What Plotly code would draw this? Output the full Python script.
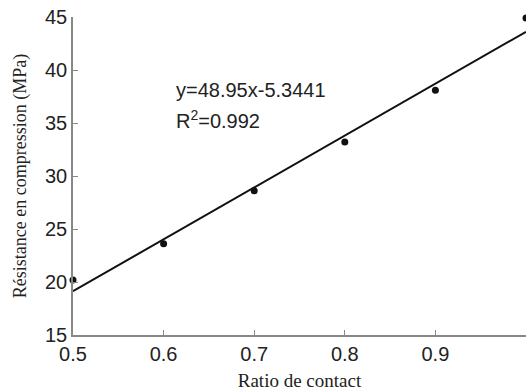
import plotly.graph_objects as go

ratio = [0.5, 0.6, 0.7, 0.8, 0.9, 1.0]
resistance = [20.2, 23.6, 28.6, 33.2, 38.1, 44.9]
slope, intercept = 48.95, -5.3441
x_ticks = [0.5, 0.6, 0.7, 0.8, 0.9, 1.0]
x_labels = ["0.5", "0.6", "0.7", "0.8", "0.9", "1"]
y_ticks = [15, 20, 25, 30, 35, 40, 45]

fit_x = [0.5, 1.0]
fit_y = [slope * v + intercept for v in fit_x]

fig = go.Figure()
fig.add_trace(go.Scatter(x=fit_x, y=fit_y, mode="lines",
                         line=dict(color="#111111", width=2), showlegend=False, cliponaxis=False))
fig.add_trace(go.Scatter(x=ratio, y=resistance, mode="markers",
                         marker=dict(color="#111111", size=7), showlegend=False, cliponaxis=False))

fig.add_annotation(x=0.611, y=38.15, xref="x", yref="y", xanchor="left", yanchor="middle",
                   text="y=48.95x-5.3441", showarrow=False,
                   font=dict(family="Liberation Sans, Arial", size=20, color="#222222"))
fig.add_annotation(x=0.611, y=35.3, xref="x", yref="y", xanchor="left", yanchor="middle",
                   text="R<sup>2</sup>=0.992", showarrow=False,
                   font=dict(family="Liberation Sans, Arial", size=20, color="#222222"))

fig.update_layout(
    width=526, height=392,
    margin=dict(l=73, r=0, t=17, b=57),
    plot_bgcolor="white", paper_bgcolor="white",
    xaxis=dict(range=[0.5, 1.0], tickvals=x_ticks, ticktext=x_labels,
               showgrid=False, zeroline=False, showline=True, linecolor="#888888", linewidth=1.5,
               ticks="inside", ticklen=5, tickcolor="#888888",
               tickfont=dict(family="Liberation Sans, Arial", size=20, color="#222222"),
               title=dict(text="Ratio de contact", standoff=10,
                          font=dict(family="Liberation Serif, Times New Roman", size=19, color="#222222"))),
    yaxis=dict(range=[15, 45], tickvals=y_ticks,
               showgrid=False, zeroline=False, showline=True, linecolor="#888888", linewidth=1.5,
               ticks="inside", ticklen=5, tickcolor="#888888",
               tickfont=dict(family="Liberation Sans, Arial", size=20, color="#222222"),
               title=dict(text="Résistance en compression (MPa)", standoff=14,
                          font=dict(family="Liberation Serif, Times New Roman", size=18, color="#222222"))),
)

fig.write_html("out.html")
